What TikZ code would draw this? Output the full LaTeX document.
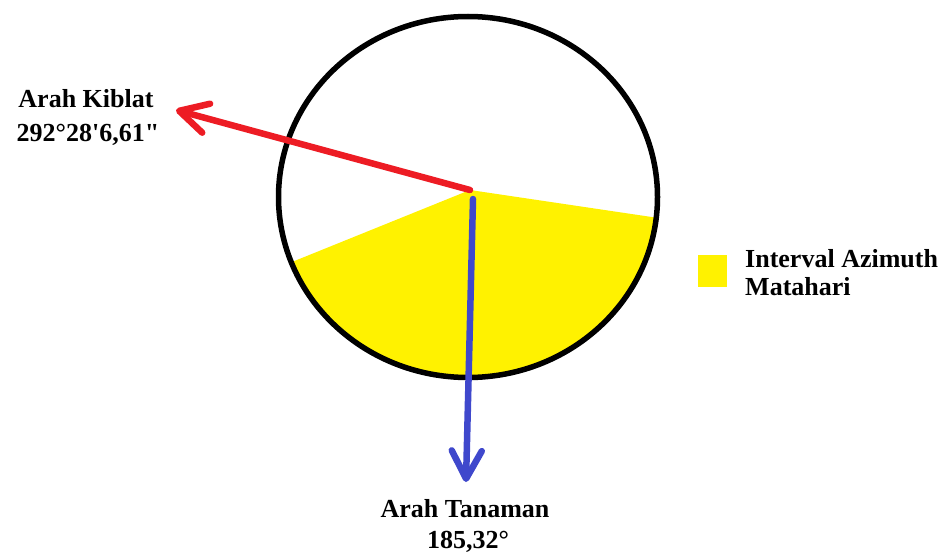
\documentclass[tikz,border=0pt]{standalone}
\usepackage{fontspec}
\newfontfamily\labfont{Liberation Serif}
\usetikzlibrary{arrows.meta,calc}
\definecolor{paintred}{RGB}{237,28,36}
\definecolor{paintblue}{RGB}{63,72,204}
\definecolor{paintyellow}{RGB}{255,242,0}
\begin{document}
\begin{tikzpicture}[x=1pt,y=-1pt,
  lab/.style={font=\labfont\bfseries\fontsize{26}{30}\selectfont, inner sep=0pt, anchor=base},
  tipbarb/.style={-{Straight Barb[length=28pt,width=30pt,round]}},
  ray/.style={line width=6.5pt, line cap=round, tipbarb}]
\useasboundingbox (0,0) rectangle (947,559);
\coordinate (o) at (468,197);
\coordinate (c) at (470,190);
\coordinate (kiblatEnd) at (176,110);
\coordinate (tanStart) at (473,199);
\coordinate (tanEnd) at (466,482);
% sun azimuth interval
\fill[paintyellow] (c) -- ($(o)+(201.2:191.5pt and 182.5pt)$)
  arc[start angle=201.2, end angle=353.4, x radius=191.5pt, y radius=182.5pt] -- cycle;
% circle
\draw[line width=5.5pt] (o) ellipse [x radius=189.5pt, y radius=180.5pt];
% arrows
\draw[paintred, ray] (c) -- (kiblatEnd);
\draw[paintblue, ray] (tanStart) -- (tanEnd);
% labels
\node[lab] (k1) at (86,108) {Arah Kiblat};
\node[lab] (k2) at (88,142) {292°28'6,61"};
\node[lab] (t1) at (465,517) {Arah Tanaman};
\node[lab] (t2) at (468,548) {185,32°};
\node[fill=paintyellow, minimum width=29pt, minimum height=32pt, inner sep=0pt] (legbox) at (712.5,271) {};
\node[lab, anchor=base west] (l1) at (745,267) {Interval Azimuth};
\node[lab, anchor=base west] (l2) at (745,295) {Matahari};
\end{tikzpicture}
\end{document}
